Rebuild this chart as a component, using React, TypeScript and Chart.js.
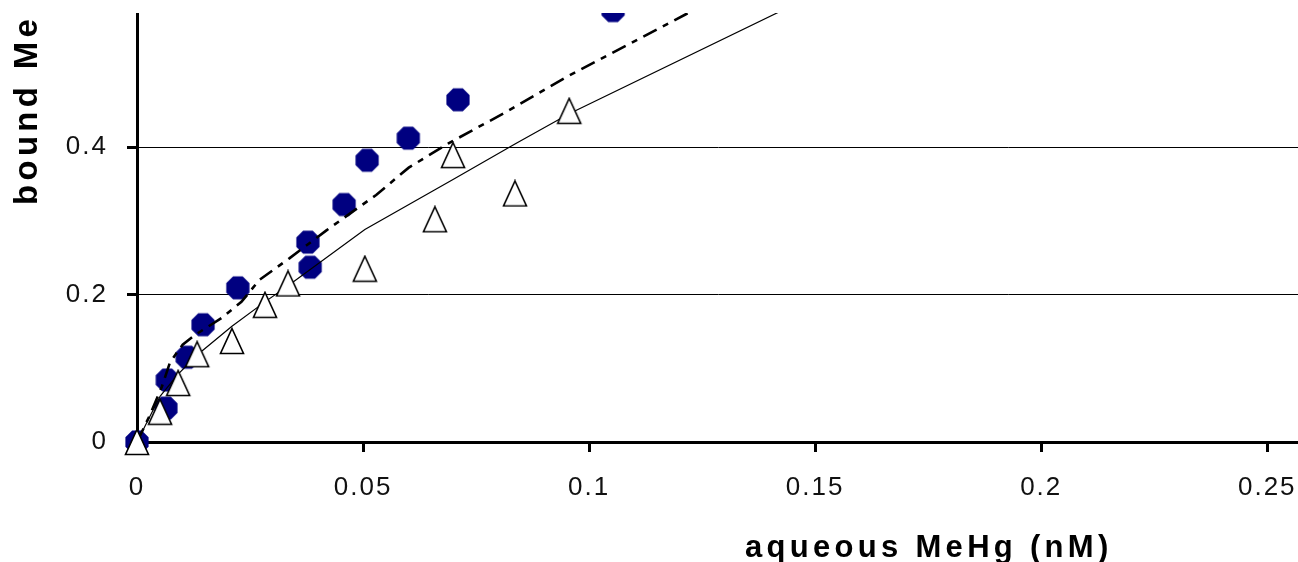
import React, { useEffect, useRef } from 'react';
import { Chart, registerables } from 'chart.js';

Chart.register(...registerables);

// Measured series (circles: filled navy markers)
const circleX = [0, 0.0064, 0.0067, 0.0111, 0.0146, 0.0223, 0.0383, 0.0378, 0.0458, 0.0509, 0.06, 0.071, 0.1053];
const circleY = [0, 0.046, 0.084, 0.115, 0.159, 0.209, 0.237, 0.271, 0.322, 0.382, 0.412, 0.464, 0.585];

// Open triangles
const triangleX = [0, 0.0051, 0.0091, 0.0133, 0.021, 0.0283, 0.0334, 0.0504, 0.0659, 0.0699, 0.0836, 0.0956];
const triangleY = [0, 0.041, 0.08, 0.119, 0.137, 0.186, 0.215, 0.235, 0.302, 0.389, 0.337, 0.449];

// Dash-dot model curve
const dashedX = [0, 0.0029, 0.0055, 0.0073, 0.0101, 0.0128, 0.0187, 0.0231, 0.0271, 0.0337, 0.0419, 0.0529, 0.0601, 0.0689, 0.0815, 0.0947, 0.1093, 0.1214, 0.13];
const dashedY = [0, 0.037, 0.075, 0.108, 0.132, 0.145, 0.168, 0.19, 0.22, 0.249, 0.287, 0.335, 0.372, 0.405, 0.447, 0.494, 0.541, 0.58, 0.606];

// Thin solid model curve
const solidX = [0, 0.0051, 0.0091, 0.0133, 0.021, 0.0283, 0.0334, 0.0504, 0.0659, 0.0699, 0.0836, 0.0956, 0.145];
const solidY = [0, 0.062, 0.092, 0.118, 0.157, 0.19, 0.212, 0.288, 0.342, 0.356, 0.404, 0.445, 0.592];

const xTickValues = [0, 0.05, 0.1, 0.15, 0.2, 0.25];
const xTickLabels = ['0', '0.05', '0.1', '0.15', '0.2', '0.25'];
const yTickValues = [0, 0.2, 0.4];
const yTickLabels = ['0', '0.2', '0.4'];

const xTitle = 'aqueous MeHg (nM)';
const yTitle = 'bound MeHg (nmol/g)';

const FONT = 'Arial, "Liberation Sans", sans-serif';

function makeTriangle(): HTMLCanvasElement {
  const c = document.createElement('canvas');
  c.width = 28;
  c.height = 28;
  const g = c.getContext('2d')!;
  g.beginPath();
  g.moveTo(14, 1.5);
  g.lineTo(25.5, 26.5);
  g.lineTo(2.5, 26.5);
  g.closePath();
  g.fillStyle = '#fff';
  g.fill();
  g.lineWidth = 1.6;
  g.strokeStyle = '#000';
  g.stroke();
  return c;
}

function makeOctagon(): HTMLCanvasElement {
  const c = document.createElement('canvas');
  c.width = 26;
  c.height = 26;
  const g = c.getContext('2d')!;
  const R = 11.6 / Math.cos(Math.PI / 8);
  g.beginPath();
  for (let i = 0; i < 8; i++) {
    const a = Math.PI / 8 + (i * Math.PI) / 4;
    const px = 13 + R * Math.cos(a);
    const py = 13 + R * Math.sin(a);
    if (i === 0) g.moveTo(px, py);
    else g.lineTo(px, py);
  }
  g.closePath();
  g.fillStyle = '#000080';
  g.fill();
  return c;
}

const titlesPlugin = {
  id: 'customTitles',
  beforeDraw(chart: any) {
    chart.ctx.letterSpacing = '2px';
  },
  afterDraw(chart: any) {
    const ctx = chart.ctx as CanvasRenderingContext2D;
    ctx.save();
    ctx.fillStyle = '#000';
    ctx.font = `bold 31px ${FONT}`;
    ctx.textAlign = 'left';
    ctx.textBaseline = 'alphabetic';
    (ctx as any).letterSpacing = '4.3px';
    ctx.fillText(xTitle, 745, 544);
    ctx.translate(37, 192);
    ctx.rotate(-Math.PI / 2);
    ctx.font = `bold 33px ${FONT}`;
    (ctx as any).letterSpacing = '4.3px';
    ctx.fillText(yTitle, 0, 0);
    ctx.restore();
  },
};

export default function App() {
  const ref = useRef<HTMLCanvasElement | null>(null);

  useEffect(() => {
    if (!ref.current) return;
    const tri = makeTriangle();
    const oct = makeOctagon();
    const pts = (xs: number[], ys: number[]) => xs.map((x, i) => ({ x, y: ys[i] }));

    const chart = new Chart(ref.current, {
      type: 'scatter',
      data: {
        datasets: [
          {
            label: 'triangles',
            data: pts(triangleX, triangleY),
            pointStyle: tri as any,
            pointRadius: 12,
            clip: false as any,
          },
          {
            label: 'solid model',
            data: pts(solidX, solidY),
            showLine: true,
            pointRadius: 0,
            borderColor: '#000',
            borderWidth: 1.2,
            tension: 0,
          },
          {
            label: 'dashed model',
            data: pts(dashedX, dashedY),
            showLine: true,
            pointRadius: 0,
            borderColor: '#000',
            borderWidth: 2.6,
            borderDash: [15, 7, 6, 7],
            tension: 0,
          },
          {
            label: 'circles',
            data: pts(circleX, circleY),
            pointStyle: oct as any,
            pointRadius: 12,
            clip: false as any,
          },
        ],
      },
      options: {
        responsive: false,
        animation: false,
        devicePixelRatio: 1,
        layout: { padding: 0, autoPadding: false },
        plugins: { legend: { display: false }, tooltip: { enabled: false } },
        scales: {
          x: {
            type: 'linear',
            position: 'bottom',
            min: 0,
            max: 0.2568,
            afterBuildTicks: (s: any) => {
              s.ticks = xTickValues.map((v) => ({ value: v }));
            },
            afterFit: (s: any) => {
              s.height = 120;
              s.paddingLeft = 0;
              s.paddingRight = 0;
            },
            grid: {
              drawOnChartArea: false,
              drawTicks: true,
              tickLength: 10,
              tickWidth: 3,
              tickColor: '#000',
            },
            border: { display: true, color: '#000', width: 3 },
            ticks: {
              padding: 20,
              color: '#111',
              font: { family: FONT, size: 26 },
              maxRotation: 0,
              autoSkip: false,
              callback: (v: any) => {
                const i = xTickValues.indexOf(Number(v));
                return i >= 0 ? xTickLabels[i] : '';
              },
            },
          },
          y: {
            type: 'linear',
            min: 0,
            max: 0.5817,
            afterBuildTicks: (s: any) => {
              s.ticks = yTickValues.map((v) => ({ value: v }));
            },
            afterFit: (s: any) => {
              s.width = 137;
              s.paddingTop = 0;
              s.paddingBottom = 0;
            },
            grid: {
              drawOnChartArea: true,
              color: '#000',
              lineWidth: 1,
              drawTicks: true,
              tickLength: 10,
              tickWidth: 3,
              tickColor: '#000',
            },
            border: { display: true, color: '#000', width: 3 },
            ticks: {
              padding: 19,
              color: '#111',
              font: { family: FONT, size: 26 },
              autoSkip: false,
              callback: (v: any) => {
                const i = yTickValues.indexOf(Number(v));
                return i >= 0 ? yTickLabels[i] : '';
              },
            },
          },
        },
      },
      plugins: [titlesPlugin],
    } as any);

    return () => chart.destroy();
  }, []);

  return (
    <div style={{ position: 'absolute', left: 0, top: 13, width: 1298, height: 549, background: '#fff' }}>
      <canvas ref={ref} width={1298} height={549} style={{ display: 'block' }} />
    </div>
  );
}
